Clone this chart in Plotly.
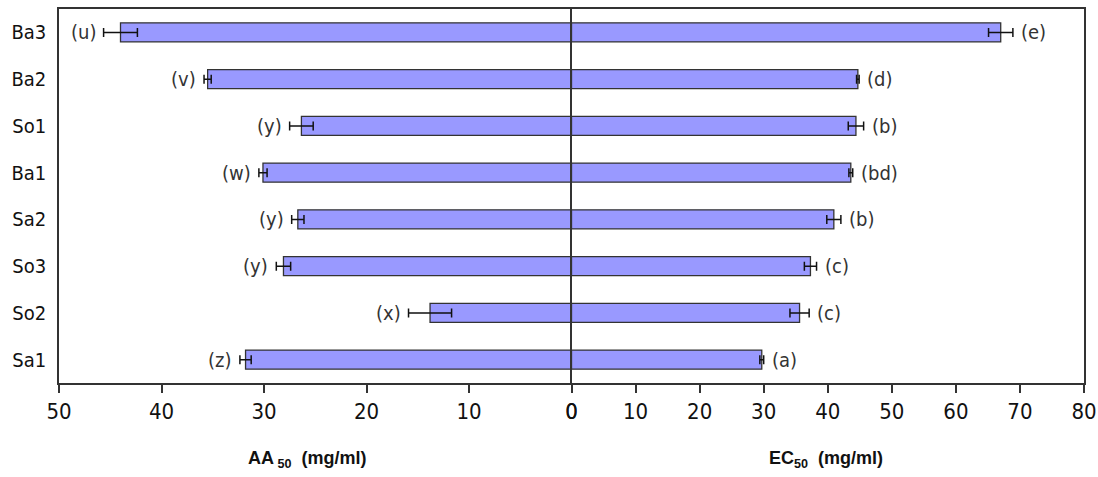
import plotly.graph_objects as go

# Categories listed bottom-to-top
categories = ["Sa1", "So2", "So3", "Sa2", "Ba1", "So1", "Ba2", "Ba3"]

aa50 = [31.8, 13.8, 28.1, 26.7, 30.1, 26.35, 35.5, 44.0]
aa50_err = [0.55, 2.1, 0.7, 0.6, 0.4, 1.15, 0.35, 1.65]
aa50_letters = ["(z)", "(x)", "(y)", "(y)", "(w)", "(y)", "(v)", "(u)"]

ec50 = [29.7, 35.6, 37.3, 40.95, 43.6, 44.4, 44.7, 67.0]
ec50_err = [0.3, 1.5, 0.95, 1.1, 0.3, 1.2, 0.2, 1.9]
ec50_letters = ["(a)", "(c)", "(c)", "(b)", "(bd)", "(b)", "(d)", "(e)"]

aa_ticks = [0, 10, 20, 30, 40, 50]
ec_ticks = [0, 10, 20, 30, 40, 50, 60, 70, 80]

BAR_FILL = "#9999FF"
EDGE = "#333333"
NARROW = "Liberation Sans Narrow, Arial Narrow, DejaVu Sans Condensed, sans-serif"


def nfont(size, color="#111111"):
    return dict(family=NARROW, size=size, color=color)


fig = go.Figure()

fig.add_trace(go.Bar(
    x=aa50, y=categories, orientation="h",
    xaxis="x", yaxis="y",
    marker=dict(color=BAR_FILL, line=dict(color=EDGE, width=1.3)),
    error_x=dict(type="data", array=aa50_err, visible=True,
                 color="#111111", thickness=1.5, width=4.5),
    showlegend=False, hoverinfo="x+y",
))

fig.add_trace(go.Bar(
    x=ec50, y=categories, orientation="h",
    xaxis="x2", yaxis="y2",
    marker=dict(color=BAR_FILL, line=dict(color=EDGE, width=1.3)),
    error_x=dict(type="data", array=ec50_err, visible=True,
                 color="#111111", thickness=1.5, width=4.5),
    showlegend=False, hoverinfo="x+y",
))

annotations = []
for c, v, e, t in zip(categories, aa50, aa50_err, aa50_letters):
    annotations.append(dict(
        x=v + e, y=c, xref="x", yref="y", text=t, showarrow=False,
        xanchor="right", yanchor="middle", xshift=-6,
        font=nfont(20, "#333333"),
    ))
for c, v, e, t in zip(categories, ec50, ec50_err, ec50_letters):
    annotations.append(dict(
        x=v + e, y=c, xref="x2", yref="y2", text=t, showarrow=False,
        xanchor="left", yanchor="middle", xshift=6,
        font=nfont(20, "#333333"),
    ))

# Axis titles
annotations.append(dict(
    x=(307 - 59) / 1025, y=-0.205, xref="paper", yref="paper",
    text="<b>AA</b><sub><b> 50</b></sub><b>  (mg/ml)</b>", showarrow=False,
    xanchor="center", yanchor="middle",
    font=dict(family="Liberation Sans, Arial, sans-serif", size=18, color="#111111"),
))
annotations.append(dict(
    x=(826 - 59) / 1025, y=-0.205, xref="paper", yref="paper",
    text="<b>EC</b><sub><b>50</b></sub><b>  (mg/ml)</b>", showarrow=False,
    xanchor="center", yanchor="middle",
    font=dict(family="Liberation Sans, Arial, sans-serif", size=18, color="#111111"),
))

axis_common = dict(
    showgrid=False, zeroline=False, showline=True, mirror=True,
    linecolor=EDGE, linewidth=1.5, automargin=False,
    ticks="outside", ticklen=8, tickwidth=1.5, tickcolor=EDGE,
    tickfont=nfont(22),
)

fig.update_layout(
    width=1098, height=477,
    margin=dict(l=59, r=14, t=9, b=94, autoexpand=False),
    paper_bgcolor="white", plot_bgcolor="white",
    bargap=0.59,
    xaxis=dict(domain=[0, 0.5], range=[50, 0], tickmode="array",
               tickvals=aa_ticks, anchor="y", **axis_common),
    xaxis2=dict(domain=[0.5, 1], range=[0, 80], tickmode="array",
                tickvals=ec_ticks, anchor="y2", **axis_common),
    yaxis=dict(anchor="x", categoryorder="array", categoryarray=categories,
               showgrid=False, zeroline=False, showline=True, mirror=False,
               linecolor=EDGE, linewidth=1.5, ticks="", ticklabelstandoff=7,
               automargin=False, tickfont=nfont(20)),
    yaxis2=dict(anchor="x2", matches="y", categoryorder="array",
                categoryarray=categories, showticklabels=False,
                showgrid=False, zeroline=False, showline=True, mirror=True,
                linecolor=EDGE, linewidth=1.5, ticks="", automargin=False),
    annotations=annotations,
)

fig.write_html("out.html")
